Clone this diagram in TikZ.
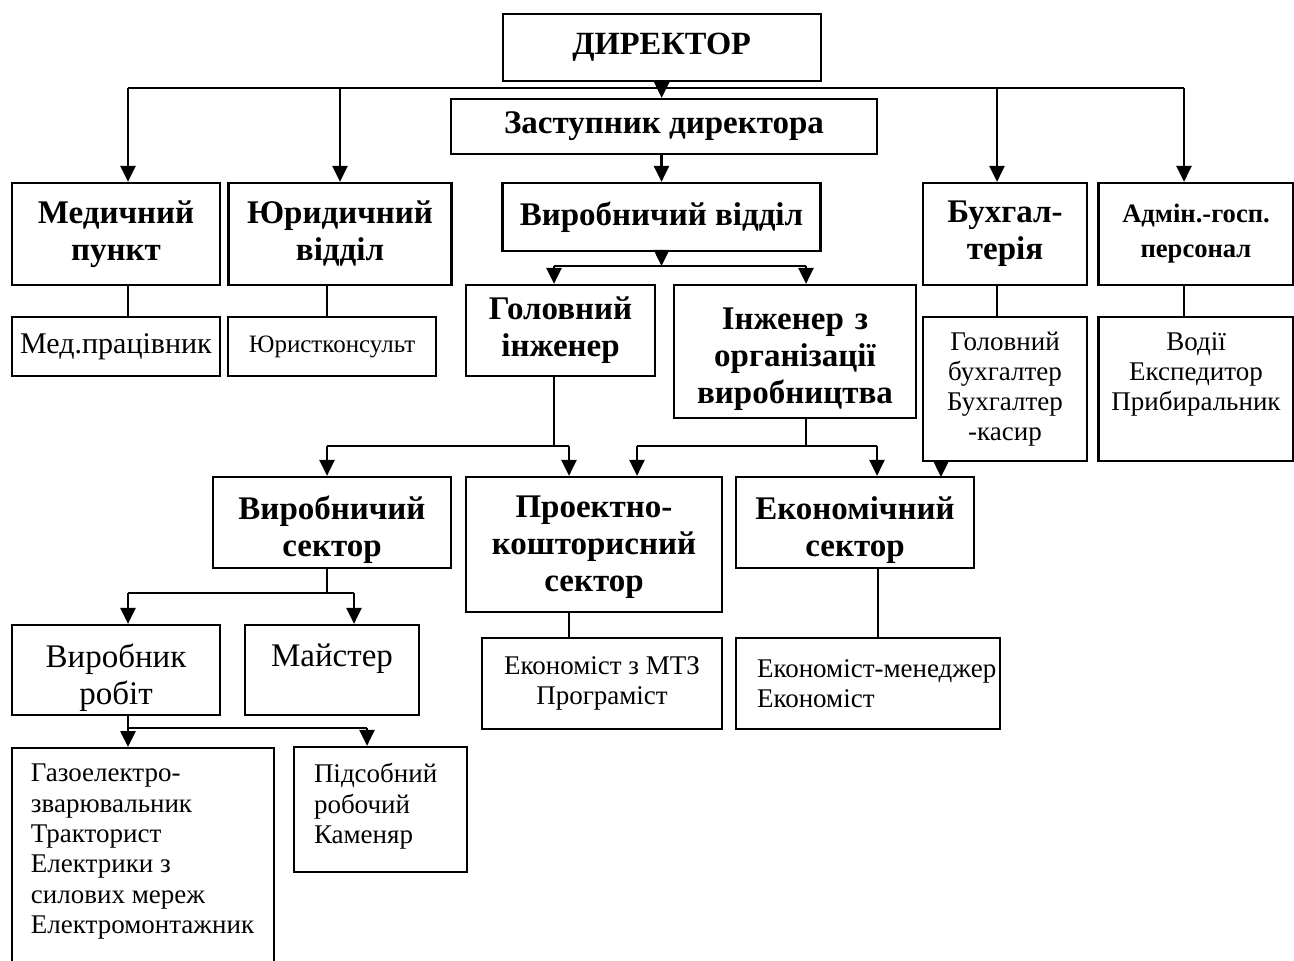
\documentclass[tikz,border=0pt]{standalone}
\usepackage{fontspec}
\setmainfont{Liberation Serif}
\usepackage{tikz}
\usetikzlibrary{arrows.meta}
\newcommand\topbox[3]{\parbox[c][#1][t]{#2}{#3}}
\tikzset{
  box/.style={draw=black, line width=1.1pt, align=center, inner sep=2pt},
  sz/.style 2 args={minimum width=#1*0.5pt, minimum height=#2*0.5pt},
  head/.style={box, font=\fontsize{16.5}{18.5}\selectfont\bfseries},
  low/.style 2 args={text width=#1, text height=#2},
  chief/.style={box, font=\fontsize{16.2}{18}\selectfont\bfseries},
  heads/.style={box, font=\fontsize{13.3}{17.5}\selectfont\bfseries},
  staff/.style={box, font=\fontsize{13.5}{15}\selectfont},
  staffl/.style={box, font=\fontsize{16.5}{18.5}\selectfont},
  crew/.style={box, font=\fontsize{13.5}{15.2}\selectfont},
  link/.style={draw=black, line width=1.3pt},
  arr/.style={link, -{Triangle[length=8pt,width=7.5pt]}},
}
\begin{document}
\begin{tikzpicture}[x=0.5pt, y=-0.5pt]
  \useasboundingbox (0,0) rectangle (1294,961);

  \node[chief, sz={318}{67}] (dir) at (661.7,47.5) {ДИРЕКТОР};
  \node[head, sz={426}{55}] (zast) at (664,126.5) {Заступник директора};
  \node[head, sz={318}{68}] (vvid) at (661.5,217) {Виробничий відділ};

  \node[head, sz={208}{102}] (med) at (116,234) {Медичний\\пункт};
  \node[head, sz={223}{102}] (yur) at (340,234) {Юридичний\\відділ};
  \node[head, sz={164}{102}] (buh) at (1005,234) {Бухгал-\\терія};
  \node[heads, sz={195}{102}] (adm) at (1196,234) {Адмін.-госп.\\персонал};

  \node[box, sz={208}{59}, font=\fontsize{15}{17}\selectfont] (medp) at (116,346.5) {Мед.працівник};
  \node[box, sz={208}{59}, font=\fontsize{12.5}{15}\selectfont] (yurk) at (332,346.5) {Юристконсульт};
  \node[staff, sz={164}{144}] (buhp) at (1005,389) {Головний\\бухгалтер\\Бухгалтер\\-касир};
  \node[staff, sz={195}{144}] (admp) at (1196,389)
    {\topbox{56pt}{92pt}{\centering Водії\\Експедитор\\Прибиральник}};

  \node[head, sz={189}{91}] (golinz) at (560.5,330.5) {Головний\\інженер};
  \node[head, low={115pt}{19pt}, sz={242}{133}] (inzorg) at (795,351.5)
    {\mbox{Інженер з}\\організації\\виробництва};

  \node[head, low={110pt}{19pt}, sz={238}{91}] (vsec) at (332,522.5) {Виробничий\\сектор};
  \node[head, low={120pt}{14pt}, sz={256}{135}] (psec) at (594,544.5) {Проектно-\\кошторисний\\сектор};
  \node[head, low={110pt}{19pt}, sz={238}{91}] (esec) at (855,522.5) {Економічний\\сектор};

  \node[staffl, sz={208}{90}] (vyrob) at (116,670)
    {\topbox{26.5pt}{90pt}{\centering Виробник\\робіт}};
  \node[staffl, sz={174}{90}] (maist) at (332,670)
    {\topbox{26.5pt}{80pt}{\centering Майстер}};
  \node[staff, sz={240}{91}] (econp) at (602,683.5) {Економіст з МТЗ\\Програміст};
  \node[staff, sz={264}{91}, text width=111pt, align=left] (econm) at (868,683.5)
    {\mbox{Економіст-менеджер}\\Економіст};

  \node[crew, minimum width=131pt, inner ysep=8pt, anchor=north] (gazo) at (143,747)
    {\topbox{124pt}{112pt}{\raggedright Газоелектро-\\зварювальник\\Тракторист\\Електрики з\\силових мереж\\Електромонтажник}};
  \node[crew, sz={173}{125}] (pids) at (380.5,809.5)
    {\topbox{46pt}{66.5pt}{\raggedright Підсобний\\робочий\\Каменяр}};

  \coordinate (t1) at (128,88);
  \coordinate (t2) at (1184,88);
  \coordinate (t3) at (997,88);
  \coordinate (y1) at (327,88);
  \draw[link] (t1) -- (t2);
  \draw[arr] (dir.south) -- (dir.south |- zast.north);
  \draw[arr] (t1) -- (t1 |- med.north);
  \draw[arr] (yur.north |- t1) -- (yur.north);
  \draw[arr] (t3) -- (t3 |- buh.north);
  \draw[arr] (t2) -- (t2 |- adm.north);

  \draw[link] (t1 |- med.south) -- (t1 |- medp.north);
  \draw[link] (y1 |- yur.south) -- (y1 |- yurk.north);
  \draw[link] (t3 |- buh.south) -- (t3 |- buhp.north);
  \draw[link] (t2 |- adm.south) -- (t2 |- admp.north);

  \draw[arr] (zast.south -| vvid.north) -- (vvid.north);

  \coordinate (v1) at (554,266);
  \coordinate (v2) at (806,266);
  \draw[arr] (vvid.south) -- (vvid.south |- v1);
  \draw[link] (v1) -- (v2);
  \draw[arr] (v1) -- (v1 |- golinz.north);
  \draw[arr] (v2) -- (v2 |- inzorg.north);

  \coordinate (g1) at (327,446);
  \coordinate (g2) at (569,446);
  \coordinate (g3) at (554,446);
  \draw[link] (g3 |- golinz.south) -- (g3);
  \draw[link] (g1) -- (g2);
  \draw[arr] (g1) -- (g1 |- vsec.north);
  \draw[arr] (g2) -- (g2 |- psec.north);

  \coordinate (i1) at (637,446);
  \coordinate (i2) at (877,446);
  \coordinate (i3) at (806,446);
  \draw[link] (i3 |- inzorg.south) -- (i3);
  \draw[link] (i1) -- (i2);
  \draw[arr] (i1) -- (i1 |- psec.north);
  \draw[arr] (i2) -- (i2 |- esec.north);

  \coordinate (e1) at (941,477);
  \draw[arr] (e1 |- buhp.south) -- (e1);

  \coordinate (s1) at (128,593);
  \coordinate (s2) at (354,593);
  \coordinate (s3) at (327,593);
  \draw[link] (s3 |- vsec.south) -- (s3);
  \draw[link] (s1) -- (s2);
  \draw[arr] (s1) -- (s1 |- vyrob.north);
  \draw[arr] (s2) -- (s2 |- maist.north);

  \coordinate (p1) at (569,612);
  \coordinate (p2) at (878,568);
  \draw[link] (p1 |- psec.south) -- (p1 |- econp.north);
  \draw[link] (p2 |- esec.south) -- (p2 |- econm.north);

  \coordinate (r1) at (128,728);
  \coordinate (r2) at (367,728);
  \draw[link] (r1 |- vyrob.south) -- (r1);
  \draw[link] (r1) -- (r2);
  \draw[arr] (r1) -- (r1 |- gazo.north);
  \draw[arr] (r2) -- (r2 |- pids.north);
\end{tikzpicture}
\end{document}
